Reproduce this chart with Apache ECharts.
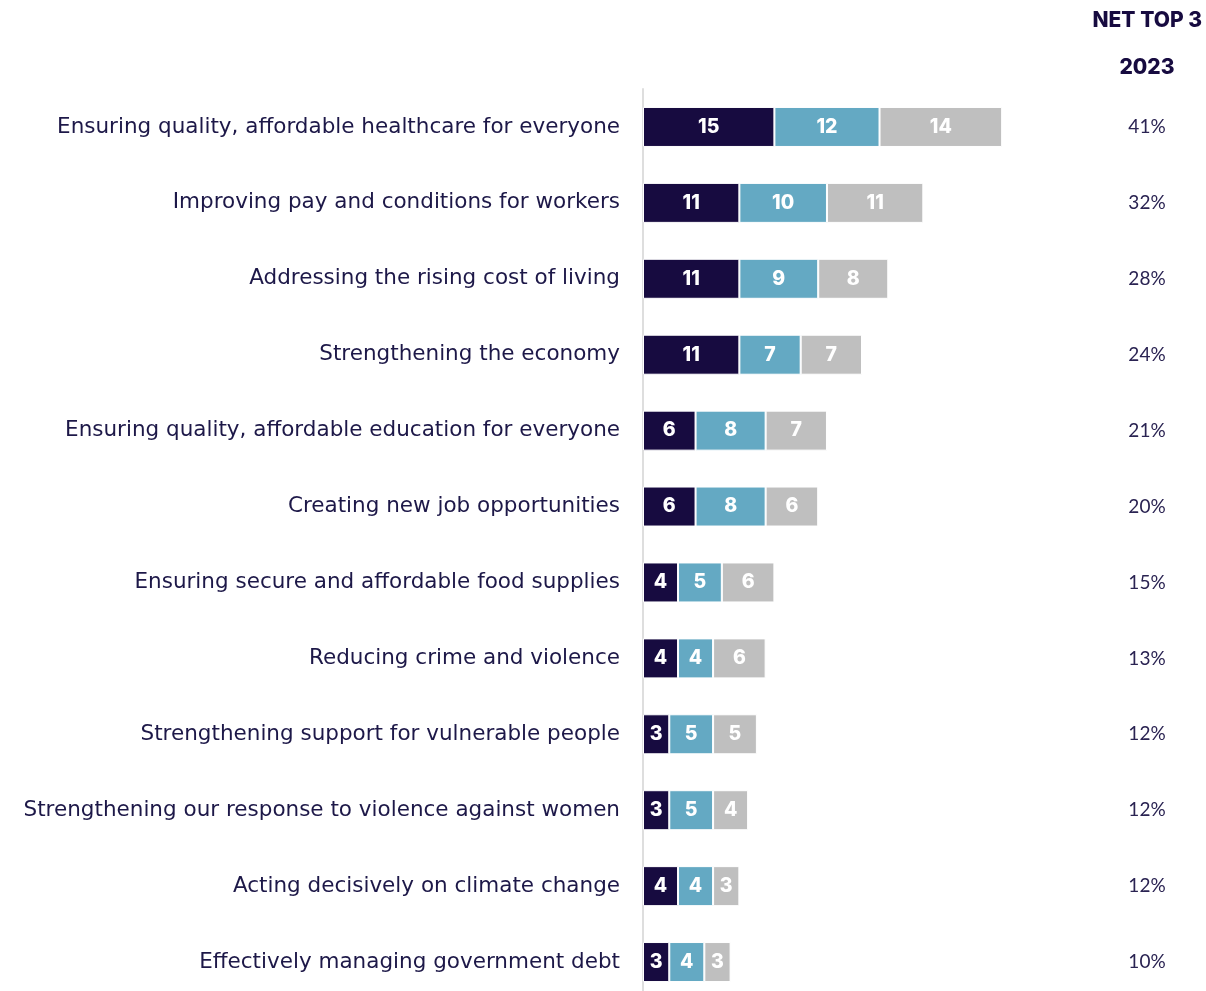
<!DOCTYPE html>
<html>
<head>
<meta charset="utf-8">
<script src="https://cdn.jsdelivr.net/npm/echarts@6/dist/echarts.min.js"></script>
<style>
  html, body { margin: 0; padding: 0; background: #fff; }
  #chart { width: 1206px; height: 991px; }
</style>
</head>
<body>
<div id="chart"></div>
<script>
// Priorities ranked first, second and third (percent of respondents)
const categories = [
  'Ensuring quality, affordable healthcare for everyone',
  'Improving pay and conditions for workers',
  'Addressing the rising cost of living',
  'Strengthening the economy',
  'Ensuring quality, affordable education for everyone',
  'Creating new job opportunities',
  'Ensuring secure and affordable food supplies',
  'Reducing crime and violence',
  'Strengthening support for vulnerable people',
  'Strengthening our response to violence against women',
  'Acting decisively on climate change',
  'Effectively managing government debt'
];
const rank1 = [15, 11, 11, 11, 6, 6, 4, 4, 3, 3, 4, 3];
const rank2 = [12, 10, 9, 7, 8, 8, 5, 4, 5, 5, 4, 4];
const rank3 = [14, 11, 8, 7, 7, 6, 6, 6, 5, 4, 3, 3];
const netTop3 = [41, 32, 28, 24, 21, 20, 15, 13, 12, 12, 12, 10];

const NAVY = '#170b40';
const TEAL = '#64a9c3';
const GREY = '#bfbfbf';

const segLabel = {
  show: true,
  position: 'inside',
  color: '#ffffff',
  fontFamily: 'Inter',
  fontWeight: 800,
  fontSize: 19.5
};

function seg(name, data, color) {
  return {
    name,
    type: 'bar',
    stack: 'rank',
    data,
    barWidth: 40,
    itemStyle: { color, borderColor: '#ffffff', borderWidth: 1 },
    label: segLabel
  };
}

const chart = echarts.init(document.getElementById('chart'), null, { renderer: 'canvas' });
chart.setOption({
  animation: false,
  backgroundColor: '#ffffff',
  grid: {
    left: 643, top: 89, right: 125, bottom: -9,
    containLabel: false,
    outerBoundsMode: 'none'
  },
  xAxis: {
    type: 'value', min: 0, max: 50,
    show: false
  },
  yAxis: [
    {
      type: 'category',
      data: categories,
      inverse: true,
      axisLine: { show: true, lineStyle: { color: '#dedede', width: 2 } },
      axisTick: { show: false },
      axisLabel: {
        margin: 23,
        color: '#1d1848',
        fontFamily: 'DejaVu Sans',
        fontSize: 21.5
      }
    },
    {
      type: 'category',
      data: netTop3.map(v => v + '%'),
      inverse: true,
      position: 'right',
      axisLine: { show: false },
      axisTick: { show: false },
      axisLabel: {
        margin: 66,
        align: 'center',
        color: '#2a2352',
        fontFamily: 'Lato',
        fontSize: 19
      }
    }
  ],
  graphic: [
    {
      type: 'text', right: 4, top: 10,
      style: { text: 'NET TOP 3', fill: NAVY, font: '800 21px Inter' }
    },
    {
      type: 'text', x: 1147, y: 57,
      style: { text: '2023', fill: NAVY, font: '800 21px Inter', textAlign: 'center' }
    }
  ],
  series: [
    seg('First', rank1, NAVY),
    seg('Second', rank2, TEAL),
    seg('Third', rank3, GREY)
  ]
});
</script>
</body>
</html>
